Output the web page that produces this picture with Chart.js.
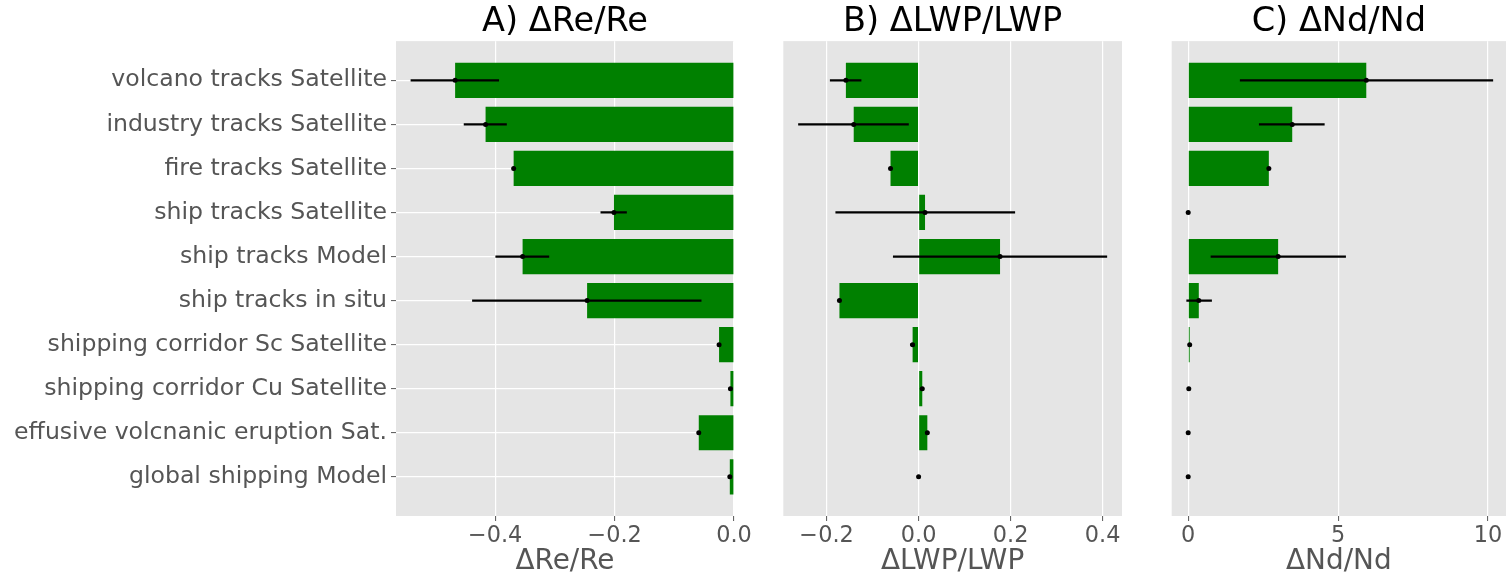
<!DOCTYPE html>
<html>
<head>
<meta charset="utf-8">
<script src="https://cdn.jsdelivr.net/npm/chart.js@4/dist/chart.umd.min.js"></script>
<style>
  html, body { margin: 0; padding: 0; background: #fff; overflow: hidden; width: 1506px; height: 576px; }
  canvas { position: absolute; top: 0; }
</style>
</head>
<body>
<canvas id="panelA" width="760" height="576" style="left:0px"></canvas>
<canvas id="panelB" width="380" height="576" style="left:760px"></canvas>
<canvas id="panelC" width="370" height="576" style="left:1140px"></canvas>
<script>
// categories, top to bottom
const categories = [
    'volcano tracks Satellite',
    'industry tracks Satellite',
    'fire tracks Satellite',
    'ship tracks Satellite',
    'ship tracks Model',
    'ship tracks in situ',
    'shipping corridor Sc Satellite',
    'shipping corridor Cu Satellite',
    'effusive volcnanic eruption Sat.',
    'global shipping Model'
];

// A) dRe/Re
const reValues  = [-0.467, -0.416, -0.369, -0.201, -0.354, -0.246, -0.025, -0.006, -0.059, -0.007];
const reErrLow  = [-0.541, -0.452, null, -0.223, -0.399, -0.438, null, null, null, null];
const reErrHigh = [-0.394, -0.381, null, -0.180, -0.310, -0.055, null, null, null, null];

// B) dLWP/LWP
const lwpValues  = [-0.158, -0.141, -0.061, 0.014, 0.177, -0.172, -0.013, 0.008, 0.019, 0.0];
const lwpErrLow  = [-0.192, -0.261, null, -0.180, -0.055, null, -0.018, null, null, null];
const lwpErrHigh = [-0.125, -0.022, null, 0.209, 0.409, null, -0.010, null, null, null];

// C) dNd/Nd
const ndValues  = [5.94, 3.47, 2.69, 0.0, 3.0, 0.354, 0.05, 0.02, 0.0, 0.0];
const ndErrLow  = [1.735, 2.37, null, null, 0.76, -0.05, null, null, null, null];
const ndErrHigh = [10.16, 4.54, null, null, 5.25, 0.78, null, null, null, null];

// tick labels
const reTicks  = [-0.4, -0.2, 0.0];
const lwpTicks = [-0.2, 0.0, 0.2, 0.4];
const ndTicks  = [0, 5, 10];

const theme = {
    panelBg: '#E5E5E5',
    grid: '#FFFFFF',
    text: '#555555',
    bar: '#008000',
    font: "'DejaVu Sans', sans-serif"
};

const rows = categories.map((c, i) => i);

const panelBackground = {
    id: 'panelBackground',
    beforeDraw(chart) {
        const a = chart.chartArea;
        const ctx = chart.ctx;
        ctx.save();
        ctx.fillStyle = theme.panelBg;
        ctx.fillRect(a.left, a.top, a.right - a.left, a.bottom - a.top);
        ctx.restore();
    }
};

function fmtDecimal(v) {
    return (v < 0 ? '\u2212' : '') + Math.abs(v).toFixed(1);
}

function makePanel(canvasId, cfg) {
    const bars = rows.map(i => ({ x: cfg.values[i], y: i }));
    const errs = rows.filter(i => cfg.errLow[i] !== null)
        .map(i => ({ x: [cfg.errLow[i], cfg.errHigh[i]], y: i }));
    const dots = rows.map(i => ({ x: cfg.values[i], y: i }));

    return new Chart(document.getElementById(canvasId), {
        type: 'bar',
        data: {
            datasets: [
                {
                    type: 'scatter',
                    data: dots,
                    showLine: false,
                    pointRadius: 2.5,
                    pointBackgroundColor: '#000',
                    pointBorderWidth: 0,
                    order: 1
                },
                {
                    data: errs,
                    backgroundColor: '#000',
                    barThickness: 1.6,
                    grouped: false,
                    order: 2
                },
                {
                    data: bars,
                    backgroundColor: theme.bar,
                    borderWidth: 0,
                    barPercentage: 0.8,
                    categoryPercentage: 1.0,
                    grouped: false,
                    order: 3
                }
            ]
        },
        options: {
            indexAxis: 'y',
            responsive: false,
            animation: false,
            events: [],
            layout: { padding: { left: cfg.padLeft, right: cfg.padRight, top: 0, bottom: 0 } },
            plugins: {
                legend: { display: false },
                tooltip: { enabled: false },
                title: {
                    display: true,
                    text: cfg.title,
                    color: '#000',
                    fullSize: false,
                    padding: { top: 2.5, bottom: 0 },
                    font: { family: theme.font, size: 33.6, weight: 'normal', lineHeight: 1.15 }
                }
            },
            scales: {
                x: {
                    type: 'linear',
                    min: cfg.xMin,
                    max: cfg.xMax,
                    afterFit: s => { s.height = 60; },
                    afterBuildTicks: s => { s.ticks = cfg.ticks.map(v => ({ value: v })); },
                    ticks: {
                        color: theme.text,
                        padding: 2,
                        font: { family: theme.font, size: 22.4 },
                        callback: cfg.tickFormat
                    },
                    grid: { color: theme.grid, lineWidth: 1.2, tickColor: theme.text, tickLength: 5, tickWidth: 1 },
                    border: { display: false },
                    title: {
                        display: true,
                        text: cfg.xLabel,
                        color: theme.text,
                        padding: { top: 0, bottom: -2 },
                        font: { family: theme.font, size: 27.9, lineHeight: 1.2 }
                    }
                },
                y: {
                    type: 'linear',
                    display: cfg.showLabels,
                    reverse: true,
                    offset: false,
                    min: -0.89,
                    max: categories.length - 1 + 0.89,
                    afterFit: s => { s.width = cfg.yWidth; },
                    afterBuildTicks: s => { s.ticks = rows.map(i => ({ value: i })); },
                    ticks: {
                        color: theme.text,
                        padding: 4,
                        font: { family: theme.font, size: 23.6 },
                        callback: v => categories[v]
                    },
                    grid: { offset: false, color: theme.grid, lineWidth: 1.2, tickColor: theme.text, tickLength: 5, tickWidth: 1 },
                    border: { display: false }
                }
            }
        },
        plugins: [panelBackground]
    });
}

makePanel('panelA', {
    title: 'A) \u0394Re/Re', xLabel: '\u0394Re/Re',
    values: reValues, errLow: reErrLow, errHigh: reErrHigh,
    ticks: reTicks, tickFormat: fmtDecimal,
    xMin: -0.566, xMax: 0.0,
    showLabels: true, yWidth: 396, padLeft: 0, padRight: 26
});

makePanel('panelB', {
    title: 'B) \u0394LWP/LWP', xLabel: '\u0394LWP/LWP',
    values: lwpValues, errLow: lwpErrLow, errHigh: lwpErrHigh,
    ticks: lwpTicks, tickFormat: fmtDecimal,
    xMin: -0.294, xMax: 0.442,
    showLabels: false, yWidth: 0, padLeft: 23.3, padRight: 18
});

makePanel('panelC', {
    title: 'C) \u0394Nd/Nd', xLabel: '\u0394Nd/Nd',
    values: ndValues, errLow: ndErrLow, errHigh: ndErrHigh,
    ticks: ndTicks, tickFormat: v => String(v),
    xMin: -0.55, xMax: 10.6,
    showLabels: false, yWidth: 0, padLeft: 31.7, padRight: 1.7
});
</script>
</body>
</html>
